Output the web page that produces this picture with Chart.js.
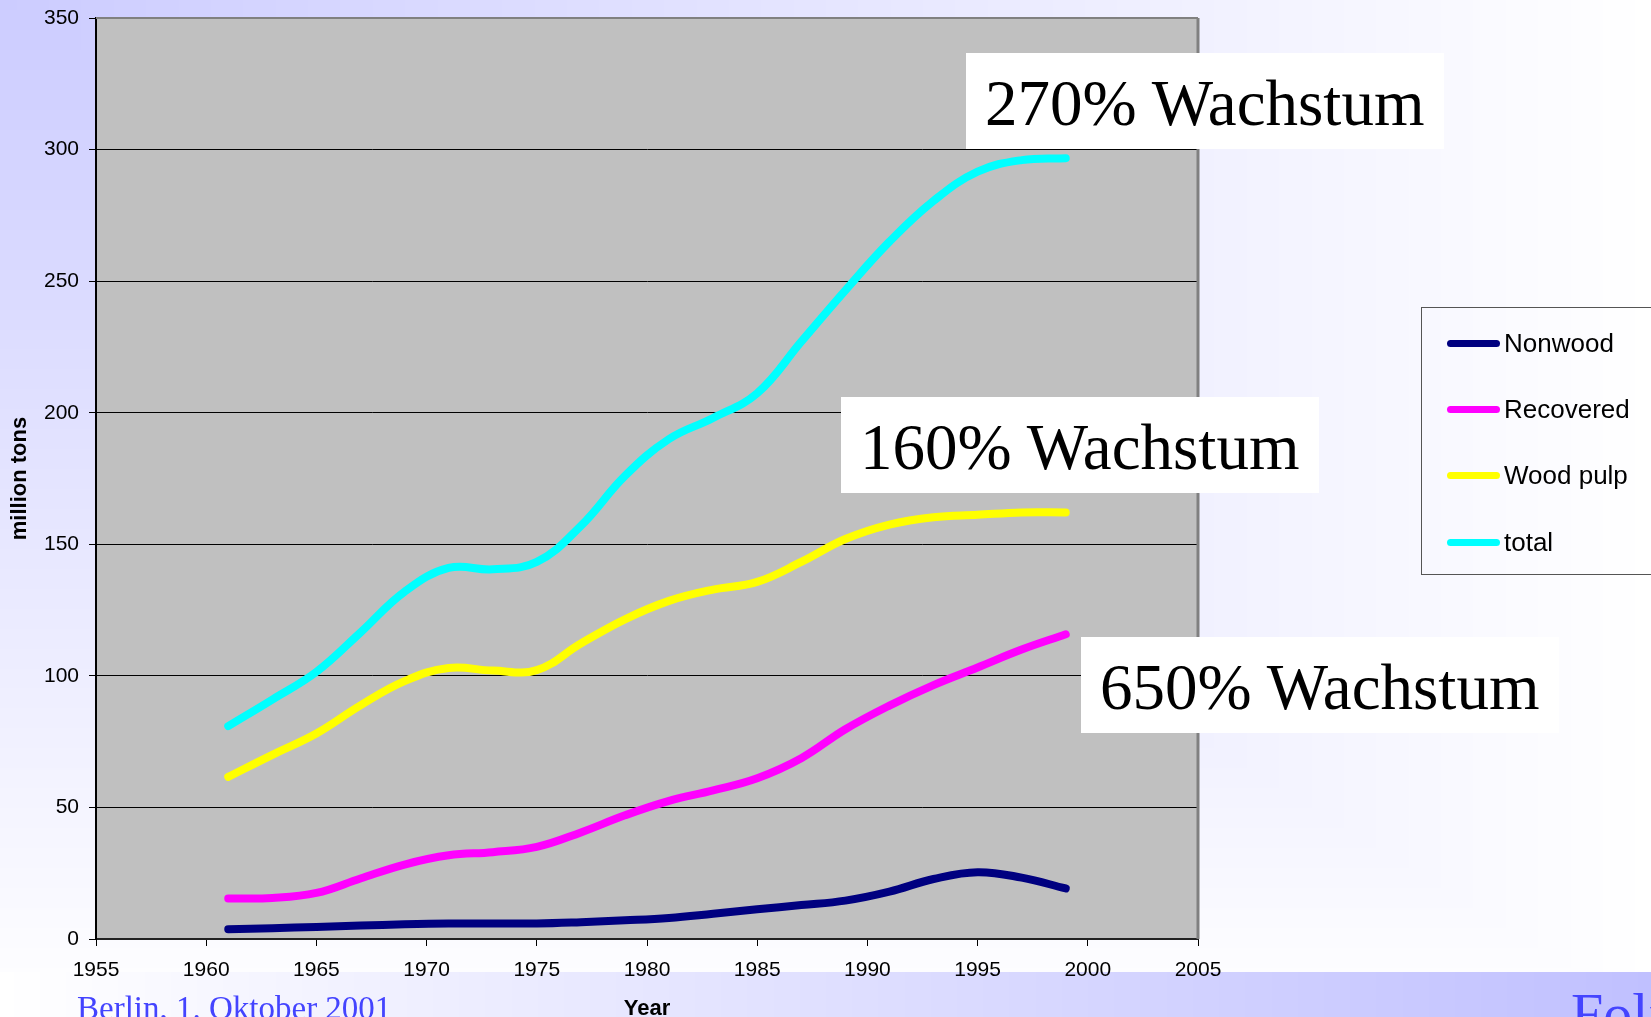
<!DOCTYPE html>
<html lang="de">
<head>
<meta charset="UTF-8">
<title>Zellstoff | Wachstum</title>
<script src="https://cdn.jsdelivr.net/npm/chart.js"></script>
<style>
    body { margin: 0; width: 1651px; height: 1017px; overflow: hidden; position: relative; font-family: 'Liberation Sans', Arial, sans-serif; }
    #fundo { position: absolute; left: 0; top: 0; }
    #area_grafico { position: absolute; left: 0; top: 0; width: 1651px; height: 1017px; }
    .caixa {
        position: absolute; width: 459px; height: 96px; padding-left: 19px; background: #fff;
        font-family: 'Liberation Serif', 'Times New Roman', serif; font-size: 65px; line-height: 100px;
        color: #000; white-space: nowrap; overflow: hidden;
    }
    #legenda {
        position: absolute; left: 1421px; top: 307px; width: 260px; height: 268px;
        border: 1px solid #555; box-sizing: border-box;
    }
    .item { position: absolute; left: 25px; height: 30px; font-size: 26px; line-height: 30px; white-space: nowrap; }
    .item span.linha { position: absolute; left: 0; top: 12px; width: 53px; height: 7px; border-radius: 4px; }
    .item span.texto { position: absolute; left: 57px; top: 0; }
    .rodape { position: absolute; font-family: 'Liberation Serif', 'Times New Roman', serif; color: #4444ff; white-space: nowrap; }
</style>
</head>
<body>
<canvas id="fundo" width="1651" height="1017"></canvas>
<div id="area_grafico"><canvas id="chartProducao"></canvas></div>

<div class="caixa" style="left:966px; top:53px;">270% Wachstum</div>
<div class="caixa" style="left:841px; top:397px;">160% Wachstum</div>
<div class="caixa" style="left:1081px; top:637px;">650% Wachstum</div>

<div id="legenda"></div>

<div class="rodape" style="left:77px; top:991px; font-size:33px; line-height:34px;">Berlin, 1. Oktober 2001</div>
<div class="rodape" style="left:1571px; top:985px; font-size:58px; line-height:58px;">Folie</div>

<script>
    // dados (million tons)
    var anos = [1961, 1963, 1965, 1967, 1969, 1971, 1973, 1975, 1977, 1979, 1981, 1983, 1985, 1987, 1989, 1991, 1993, 1995, 1997, 1999]
    var nonwood = [3.7, 4.1, 4.6, 5.1, 5.6, 5.9, 5.9, 5.9, 6.4, 7.1, 8, 9.6, 11.3, 12.9, 14.6, 18, 22.8, 25.4, 23.3, 19.2]
    var recovered = [15.4, 15.6, 17.5, 23, 28.3, 31.8, 33, 35, 40.5, 47, 52.5, 56.5, 61.1, 68.7, 79.7, 88.7, 96.5, 103.2, 110, 115.8]
    var woodPulp = [61.6, 70, 78.1, 88.8, 98, 103, 102, 102.2, 112.3, 121.5, 128.5, 132.8, 135.7, 143.3, 152, 157.5, 160.3, 161.2, 162.1, 162.1]
    var total = [80.9, 91, 101.5, 116.5, 132, 141, 140.5, 143.3, 157, 176, 190, 198, 207.4, 227, 246.5, 265, 280.5, 291.6, 296, 296.7]

    var nomesSeries = ["Nonwood", "Recovered", "Wood pulp", "total"]
    var coresSeries = ['#000080', '#ff00ff', '#ffff00', '#00ffff']
    var valoresSeries = [nonwood, recovered, woodPulp, total]

    var ticksX = [1955, 2005, 5]
    var ticksY = [0, 350, 50]

    // fundo do slide: degrade de canto (lilas -> branco) e faixa inferior
    function desenharFundo() {
        var cv = document.getElementById('fundo')
        var c = cv.getContext('2d')
        var W = cv.width, H = cv.height
        var img = c.createImageData(W, H)
        for (var y = 0; y < H; y++) {
            for (var x = 0; x < W; x++) {
                var t
                var r, g, b
                if (y >= 972) {
                    t = x / W
                    r = 255 - 63 * t; g = 255 - 63 * t; b = 255
                } else {
                    t = Math.max(x / W, y / H)
                    r = 204 + 51 * t; g = 204 + 51 * t; b = 255
                }
                var i = (y * W + x) * 4
                img.data[i] = r; img.data[i + 1] = g; img.data[i + 2] = b; img.data[i + 3] = 255
            }
        }
        c.putImageData(img, 0, 0)
    }
    desenharFundo()

    var fundoPlot = {
        id: 'fundoPlot',
        beforeDraw: function (chart) {
            var a = chart.chartArea, c = chart.ctx
            c.save()
            c.fillStyle = '#c0c0c0'
            c.fillRect(a.left, a.top, a.right - a.left, a.bottom - a.top)
            c.restore()
        },
        beforeDatasetsDraw: function (chart) {
            var a = chart.chartArea, c = chart.ctx
            c.save()
            c.strokeStyle = '#808080'
            c.lineWidth = 2
            c.beginPath()
            c.moveTo(a.left, a.top)
            c.lineTo(a.right, a.top)
            c.stroke()
            c.lineWidth = 3
            c.beginPath()
            c.moveTo(a.right, a.top)
            c.lineTo(a.right, a.bottom)
            c.stroke()
            c.restore()
        }
    }

    var datasets = nomesSeries.map(function (nome, k) {
        return {
            label: nome,
            data: anos.map(function (ano, j) { return { x: ano, y: valoresSeries[k][j] } }),
            borderColor: coresSeries[k],
            backgroundColor: coresSeries[k],
            borderWidth: 8,
            borderCapStyle: 'round',
            borderJoinStyle: 'round',
            pointRadius: 0,
            fill: false,
            tension: 0.4
        }
    })

    var fonteEixo = { family: "'Liberation Sans', Arial, sans-serif", size: 21 }
    var fonteTitulo = { family: "'Liberation Sans', Arial, sans-serif", size: 22, weight: 'bold', lineHeight: 1 }

    var ctx = new Chart(document.getElementById('chartProducao').getContext('2d'), {
        type: 'line',
        data: { datasets: datasets },
        plugins: [fundoPlot],
        options: {
            responsive: true,
            maintainAspectRatio: false,
            animation: false,
            layout: { padding: { top: 18, right: 453, left: 0, bottom: 0 } },
            plugins: {
                legend: { display: false },
                tooltip: { enabled: false }
            },
            scales: {
                x: {
                    type: 'linear',
                    min: ticksX[0],
                    max: ticksX[1],
                    afterFit: function (s) { s.height = 78; s.paddingLeft = 0; s.paddingRight = 0 },
                    ticks: {
                        stepSize: ticksX[2],
                        color: '#000',
                        font: fonteEixo,
                        padding: 12,
                        maxRotation: 0,
                        callback: function (v) { return String(v) }
                    },
                    grid: { drawOnChartArea: false, drawTicks: true, tickLength: 7, color: '#000' },
                    border: { color: '#222', width: 2 },
                    title: {
                        display: true,
                        text: 'Year',
                        color: '#000',
                        font: fonteTitulo,
                        padding: { top: 0, bottom: -3 }
                    }
                },
                y: {
                    min: ticksY[0],
                    max: ticksY[1],
                    afterFit: function (s) { s.width = 96; s.paddingTop = 0; s.paddingBottom = 0 },
                    ticks: { stepSize: ticksY[2], color: '#000', font: fonteEixo, padding: 10 },
                    grid: { color: '#000', lineWidth: 1, drawTicks: true, tickLength: 7 },
                    border: { color: '#000', width: 2 },
                    title: {
                        display: true,
                        text: 'million tons',
                        color: '#000',
                        font: fonteTitulo,
                        padding: { top: 9, bottom: 0 }
                    }
                }
            }
        }
    })

    // legenda montada a partir das series do grafico
    var topos = [327, 393, 459, 526]
    var legenda = document.getElementById('legenda')
    ctx.data.datasets.forEach(function (ds, k) {
        var item = document.createElement('div')
        item.className = 'item'
        item.style.top = (topos[k] - 307) + 'px'
        item.innerHTML = '<span class="linha" style="background:' + ds.borderColor + '"></span><span class="texto">' + ds.label + '</span>'
        legenda.appendChild(item)
    })
</script>
</body>
</html>
